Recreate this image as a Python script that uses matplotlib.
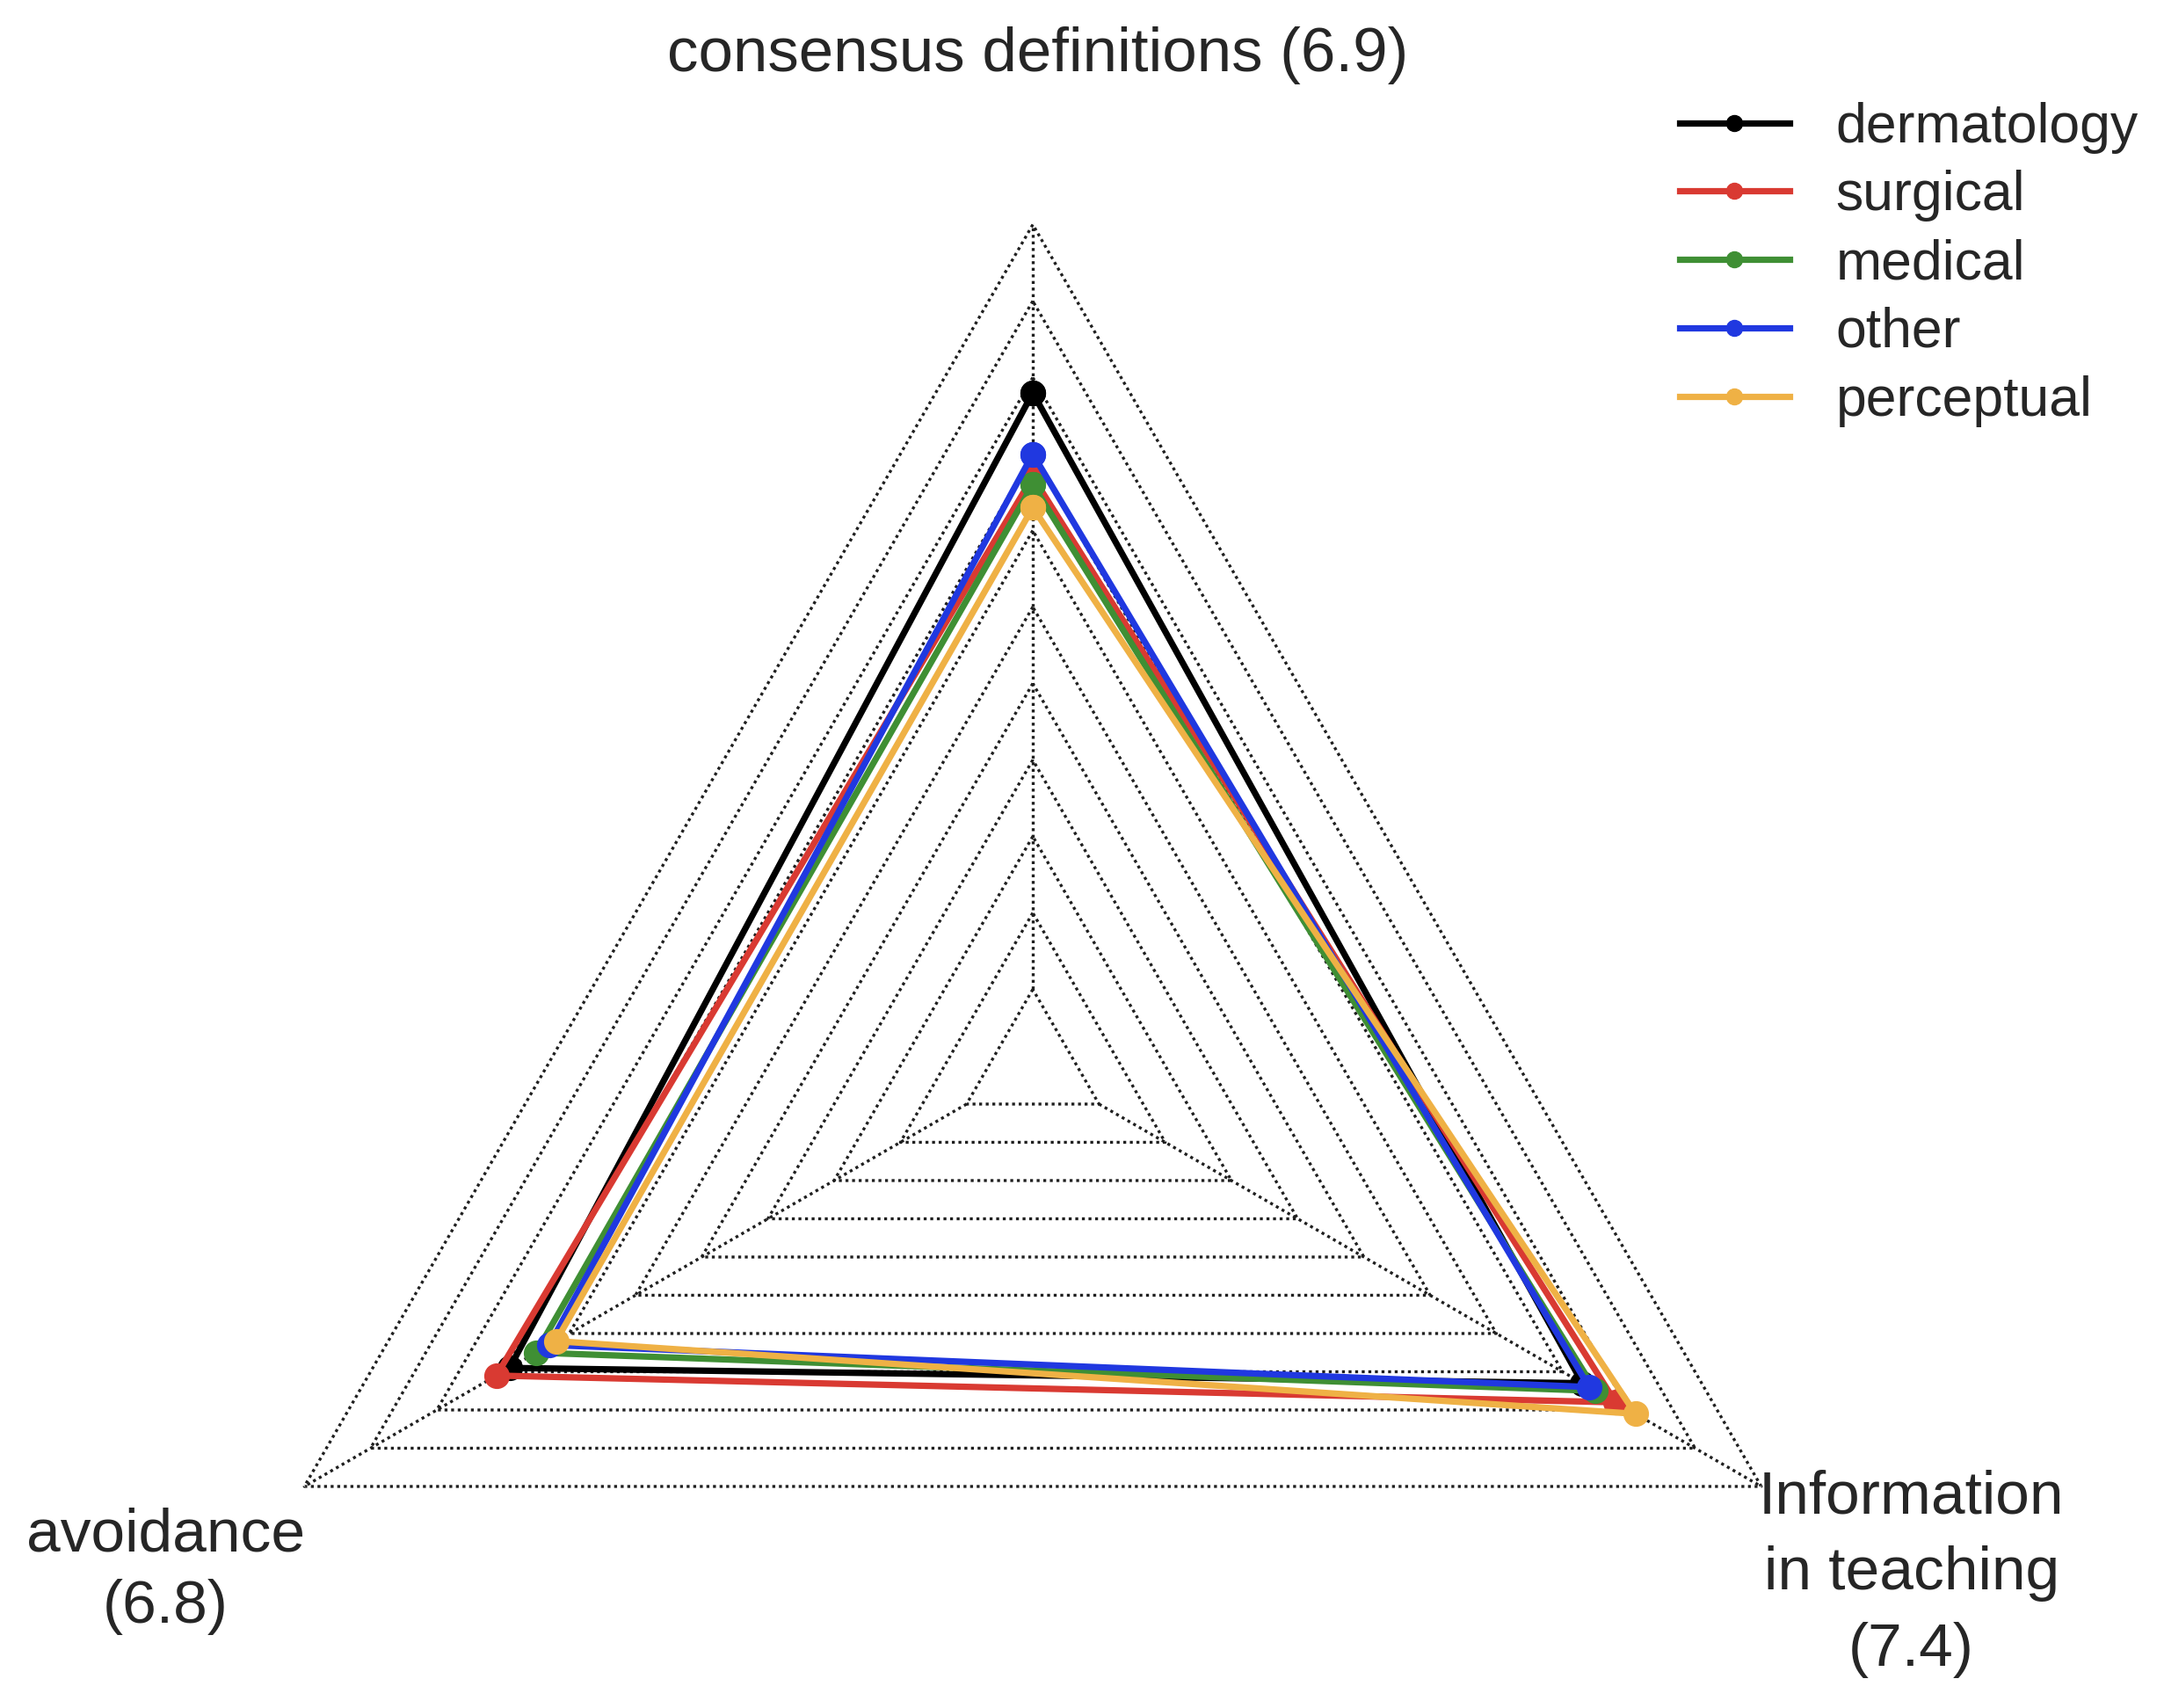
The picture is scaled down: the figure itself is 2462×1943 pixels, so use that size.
import numpy as np
import matplotlib
matplotlib.use("Agg")
import matplotlib.pyplot as plt

plt.rcParams['font.family'] = ['Liberation Sans', 'DejaVu Sans']

# radar axes (overall mean in brackets), counter-clockwise from the top
axis_labels = ['consensus definitions (6.9)', 'avoidance\n(6.8)', 'Information\nin teaching\n(7.4)']
axis_angles = [90, 210, 330]

groups = ['dermatology', 'surgical', 'medical', 'other', 'perceptual']
colors = ['black', '#d93a32', '#3f8f34', '#2038e0', '#efb145']

# mean scores per group: consensus, avoidance, information
dermatology = [7.8, 6.9, 7.3]
surgical = [6.7, 7.1, 7.8]
medical = [6.6, 6.5, 7.5]
other = [7.0, 6.3, 7.4]
perceptual = [6.3, 6.2, 8.1]

ring_values = list(range(0, 11))
r_min = -1   # radial axis starts one step below 0


def to_xy(vals):
    """radar value -> cartesian, closed polygon"""
    th = np.deg2rad(axis_angles)
    r = np.asarray(vals, dtype=float) - r_min
    x = r * np.cos(th)
    y = r * np.sin(th)
    return np.append(x, x[0]), np.append(y, y[0])


fig = plt.figure(figsize=(24.62, 19.43), dpi=100)
ax = fig.add_axes([0, 0, 1, 1])
# 1 radial unit = 87 px, centre at (1175, 1212) px
ax.set_xlim(-13.506, 14.793)
ax.set_ylim(-8.397, 13.937)
ax.axis('off')

grid_style = dict(linestyle=(0, (1, 1.25)), color='0.12', lw=2.4, zorder=1)

# dotted triangular grid
for v in ring_values:
    gx, gy = to_xy([v] * 3)
    ax.plot(gx, gy, **grid_style)

# spokes
for a in axis_angles:
    t = np.deg2rad(a)
    r0, r1 = ring_values[0] - r_min, ring_values[-1] - r_min
    ax.plot([r0 * np.cos(t), r1 * np.cos(t)], [r0 * np.sin(t), r1 * np.sin(t)], **grid_style)

series = [dermatology, surgical, medical, other, perceptual]
for name, vals, c in zip(groups, series, colors):
    px, py = to_xy(vals)
    ax.plot(px, py, '-o', color=c, lw=5.2, ms=20, label=name, zorder=3)

# axis labels
txt_col = '#262626'
ax.text(0.07, 13.21, axis_labels[0], ha='center', va='center', fontsize=51, color=txt_col)
ax.text(-11.34, -6.61, axis_labels[1], ha='center', va='center', fontsize=50,
        color=txt_col, multialignment='center', linespacing=1.35)
ax.text(11.49, -6.64, axis_labels[2], ha='center', va='center', fontsize=50,
        color=txt_col, multialignment='center', linespacing=1.45)

leg = ax.legend(loc='upper left', bbox_to_anchor=(0.776, 0.9405), bbox_transform=fig.transFigure,
                frameon=False, fontsize=45, handlelength=2.0, handletextpad=0.85,
                labelspacing=0.3, markerscale=0.65, borderpad=0, borderaxespad=0)
for t in leg.get_texts():
    t.set_color(txt_col)

fig.savefig('out.png', dpi=100, facecolor='white')
